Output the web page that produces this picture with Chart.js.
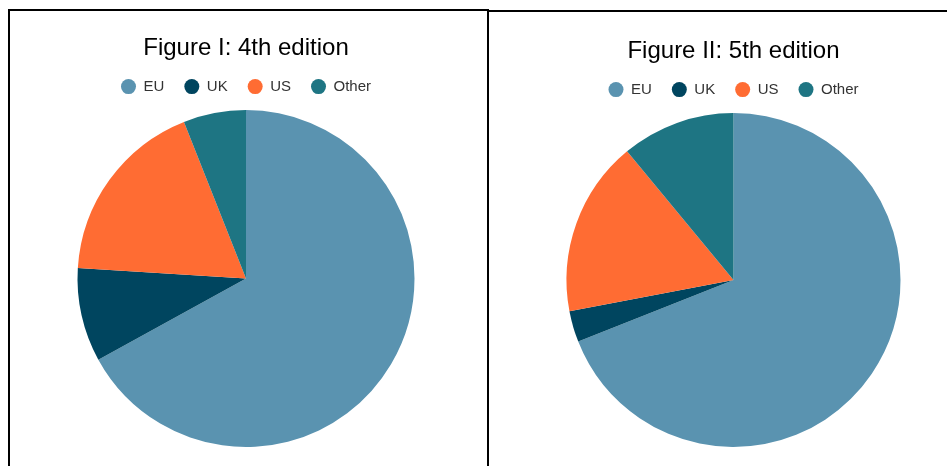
<!DOCTYPE html>
<html>
<head>
<meta charset="utf-8">
<script src="https://cdn.jsdelivr.net/npm/chart.js@4/dist/chart.umd.min.js"></script>
<style>
  body { margin: 0; width: 947px; height: 466px; overflow: hidden; background: #fff; position: relative; }
  .frame { position: absolute; border: 2px solid #000; box-sizing: border-box; height: 520px; }
  #frame1 { left: 8px; top: 9px; width: 481px; }
  #frame2 { left: 487px; top: 10px; width: 520px; }
  canvas { position: absolute; }
  #chart1 { left: 8px; top: 0px; }
  #chart2 { left: 490px; top: 3px; }
</style>
</head>
<body>
<div class="frame" id="frame1"></div>
<div class="frame" id="frame2"></div>
<canvas id="chart1" width="476" height="453"></canvas>
<canvas id="chart2" width="487" height="450"></canvas>
<script>
const regions = ['EU', 'UK', 'US', 'Other'];
const fourthEdition = [67, 9, 18, 6];
const fifthEdition = [69, 3, 17, 11];
const sliceColors = ['#5a93b0', '#00455f', '#ff6c33', '#1e7583'];

const fontFamily = '"Liberation Sans", Arial, sans-serif';

function makePie(id, title, values, sidePad) {
    const ctx = document.querySelector(id).getContext('2d');
    return new Chart(ctx, {
        type: 'pie',
        data: {
            labels: regions,
            datasets: [{
                data: values,
                backgroundColor: sliceColors,
                borderWidth: 0
            }]
        },
        options: {
            responsive: false,
            animation: false,
            layout: {
                padding: { left: sidePad, right: sidePad, top: 0, bottom: 0 }
            },
            plugins: {
                title: {
                    display: true,
                    text: title,
                    color: '#000',
                    font: { family: fontFamily, size: 24, weight: 'normal', lineHeight: 0.9 },
                    padding: { top: 37.5, bottom: 0 }
                },
                legend: {
                    position: 'top',
                    labels: {
                        usePointStyle: true,
                        pointStyle: 'circle',
                        boxHeight: 10.6,
                        pointStyleWidth: 15,
                        padding: 20,
                        color: '#333',
                        font: { family: fontFamily, size: 15 }
                    }
                },
                tooltip: { enabled: false }
            }
        }
    });
}

const chart1 = makePie('#chart1', 'Figure I: 4th edition', fourthEdition, 69.5);
const chart2 = makePie('#chart2', 'Figure II: 5th edition', fifthEdition, 76.5);
</script>
</body>
</html>
